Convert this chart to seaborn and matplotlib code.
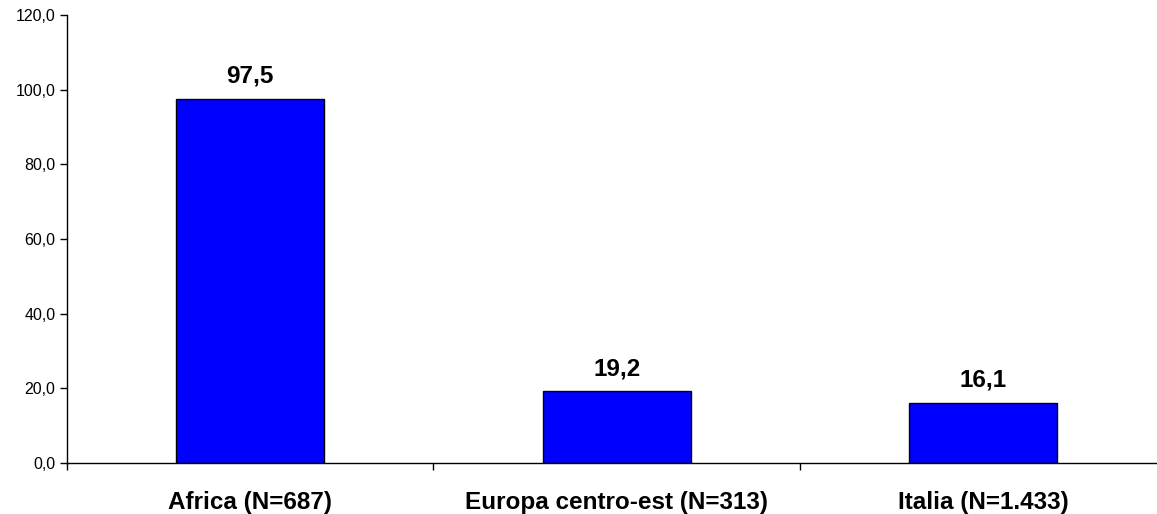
import numpy as np
import pandas as pd
import matplotlib
matplotlib.use("Agg")
import matplotlib.pyplot as plt
import seaborn as sns

# data
categories = ["Africa (N=687)", "Europa centro-est (N=313)", "Italia (N=1.433)"]
values = [97.5, 19.2, 16.1]

df = pd.DataFrame({"group": categories, "value": values})

sns.set_style("white")
plt.rcParams["font.family"] = ["Liberation Sans", "DejaVu Sans"]
plt.rcParams["text.color"] = "black"
plt.rcParams["xtick.color"] = "black"
plt.rcParams["ytick.color"] = "black"

fig = plt.figure(figsize=(11.57, 5.14), dpi=100)
# axes runs a bit past the right edge, like the original
ax = fig.add_axes([0.058, 0.099, 0.950, 0.872])

sns.barplot(data=df, x="group", y="value", color="#0000FF", saturation=1,
            width=0.404, edgecolor="black", linewidth=1, ax=ax)

# value labels above bars
for i, v in enumerate(values):
    ax.annotate(f"{v:.1f}".replace(".", ","), (i, v), xytext=(0, 8),
                textcoords="offset points", ha="center", va="bottom",
                fontsize=17.5, fontweight="bold", color="black")

ax.set_xlim(-0.5, 2.5)
ax.set_ylim(0, 120)
ax.set_yticks(np.arange(0, 121, 20))
ax.set_yticklabels([f"{t:.1f}".replace(".", ",") for t in np.arange(0, 121, 20)],
                   fontsize=11.5)
ax.set_xlabel("")
ax.set_ylabel("")

# category labels, ticks between categories
ax.set_xticks([0, 1, 2])
ax.set_xticklabels(categories, fontsize=17.5, fontweight="bold")
ax.tick_params(axis="x", which="major", length=0, pad=20)
ax.set_xticks([-0.5, 0.5, 1.5, 2.5], minor=True)
ax.tick_params(axis="x", which="minor", bottom=True, length=5, width=1,
               color="black", direction="out")
ax.tick_params(axis="y", length=5, width=1, color="black", direction="out", left=True)

for s in ["top", "right"]:
    ax.spines[s].set_visible(False)
for s in ["left", "bottom"]:
    ax.spines[s].set_color("black")
    ax.spines[s].set_linewidth(1)

fig.savefig("out.png", dpi=100)
